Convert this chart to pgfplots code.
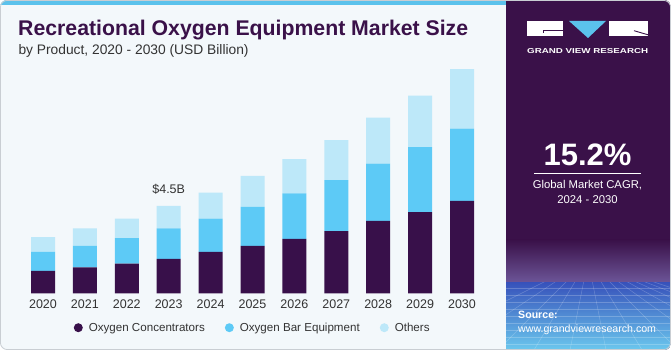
\documentclass[border=0pt]{standalone}
\usepackage{pgfplots}
\pgfplotsset{compat=1.18}
\usepackage{pgfplotstable}
\usepackage{fontspec}
\setmainfont{Liberation Sans}
\usepackage{graphicx}
\definecolor{cPurple}{HTML}{38104A}
\definecolor{cBlue}{HTML}{5DCAF6}
\definecolor{cLight}{HTML}{BDE8F9}
\definecolor{cBg}{HTML}{F3F8FB}
\definecolor{cPanel}{HTML}{3A1149}
\definecolor{cStripe}{HTML}{5BC2EC}
\definecolor{cText}{HTML}{333333}
\definecolor{cBorder}{HTML}{C9CED3}

\pgfplotstableread{
year conc bar oth
2020 1.15 0.98 0.76
2021 1.34 1.11 0.90
2022 1.53 1.31 1.01
2023 1.78 1.57 1.15
2024 2.13 1.72 1.34
2025 2.44 2.01 1.60
2026 2.81 2.34 1.77
2027 3.20 2.64 2.06
2028 3.73 2.95 2.37
2029 4.19 3.34 2.66
2030 4.76 3.73 3.06
}\datatable

\begin{document}
\begin{tikzpicture}[x=1pt,y=1pt]
\useasboundingbox (0,0) rectangle (671,350);
\begin{scope}
\clip[rounded corners=7pt] (0,0) rectangle (671,350);
\fill[cBg] (0,0) rectangle (671,350);
\fill[cStripe] (0,345) rectangle (506,350);
\fill[cPanel] (506,0) rectangle (671,350);
\shade[top color=cPanel, bottom color=cPanel!80!blue!70!white] (506,67) rectangle (671,110);
\shade[top color=cPanel!55!blue!60!cStripe, bottom color=cStripe!90!white] (506,0) rectangle (671,67);
\begin{scope}
\clip (506,0) rectangle (671,67);
\foreach \yy in {62,55,48,41,34,27,20,13,6}{
  \draw[white, opacity=0.22, line width=0.5pt] (506,\yy) -- (671,\yy);
}
\foreach \xx in {-200,-150,-100,-60,-20,20,60,100,140,180,220,260,300}{
  \draw[white, opacity=0.22, line width=0.5pt] (588,90) -- (588+\xx,-10);
}
\end{scope}
\end{scope}
\draw[cBorder, line width=0.8pt, rounded corners=7pt] (0.4,0.4) rectangle (670.6,349.6);

% logo
\fill[white] (527,314) rectangle (563,329);
\draw[cPanel, line width=0.9pt] (563,319.3) -- (543.3,319.3) -- (543.3,317.3);
\fill[cStripe] (569,329) -- (606,329) -- (588,312) -- cycle;
\fill[white] (609,314) rectangle (648,329);
\draw[cPanel, line width=0.9pt] (634,319.3) -- (648,315.2);
\node[anchor=base west, inner sep=0, white] at (527,296) {\resizebox{121pt}{5pt}{\bfseries GRAND VIEW RESEARCH}};

% CAGR
\node[anchor=base, inner sep=0, white] at (587.5,184) {\fontsize{31}{31}\selectfont\bfseries 15.2\%};
\draw[white, line width=0.8pt] (534,176.7) -- (641,176.7);
\node[anchor=base, inner sep=0, white] at (587.5,161.3) {\fontsize{11.3}{13}\selectfont Global Market CAGR,};
\node[anchor=base, inner sep=0, white] at (587.5,146) {\fontsize{11.3}{13}\selectfont 2024 - 2030};

% source
\node[anchor=base west, inner sep=0, white] at (518,31) {\fontsize{10.6}{12}\selectfont\bfseries Source:};
\node[anchor=base west, inner sep=0, white] at (518,17.3) {\fontsize{10.6}{12}\selectfont www.grandviewresearch.com};

% titles
\node[anchor=base west, inner sep=0, text=cPanel] at (18,314) {\resizebox{450pt}{!}{\fontsize{21}{21}\selectfont\bfseries Recreational Oxygen Equipment Market Size}};
\node[anchor=base west, inner sep=0, text=cText] at (18.3,295.7) {\fontsize{13.8}{14}\selectfont by Product, 2020 - 2030 (USD Billion)};

\begin{axis}[
  at={(17.86pt,56.7pt)}, anchor=south west,
  scale only axis, width=469.28pt, height=232.8pt,
  xmin=2019.4, xmax=2030.6, ymin=0, ymax=12,
  ybar stacked, bar width=24pt,
  axis line style={draw=none},
  ytick=\empty, xtick={2020,...,2030},
  major tick length=0pt,
  /pgf/number format/assume math mode=true,
  x tick label style={/pgf/number format/1000 sep={}, font=\fontsize{12.5}{13}\selectfont, text=cText, anchor=base, yshift=-15pt},
  clip=false,
  legend columns=3,
  legend style={at={(0.1192,-0.1478)}, anchor=west, draw=none, fill=none, inner sep=0pt, outer sep=0pt,
    font=\fontsize{11.6}{13}\selectfont, text=cText,
    /tikz/every even column/.append style={column sep=18pt}},
]
\addplot[fill=cPurple, draw=none, legend image code/.code={\fill[cPurple] (4.5pt,0pt) circle (4.5pt);\path (13pt,0pt);}] table[x=year,y=conc]{\datatable};
\addlegendentry{Oxygen Concentrators}
\addplot[fill=cBlue, draw=none, legend image code/.code={\fill[cBlue] (4.5pt,0pt) circle (4.5pt);\path (13pt,0pt);}] table[x=year,y=bar]{\datatable};
\addlegendentry{Oxygen Bar Equipment}
\addplot[fill=cLight, draw=none, legend image code/.code={\fill[cLight] (4.5pt,0pt) circle (4.5pt);\path (13pt,0pt);}] table[x=year,y=oth]{\datatable};
\addlegendentry{Others}
\node[anchor=base, inner sep=0, text=cText, font=\fontsize{12.5}{13}\selectfont] at (axis cs:2023,4.5) [yshift=12pt] {\$4.5B};
\end{axis}
\end{tikzpicture}
\end{document}
